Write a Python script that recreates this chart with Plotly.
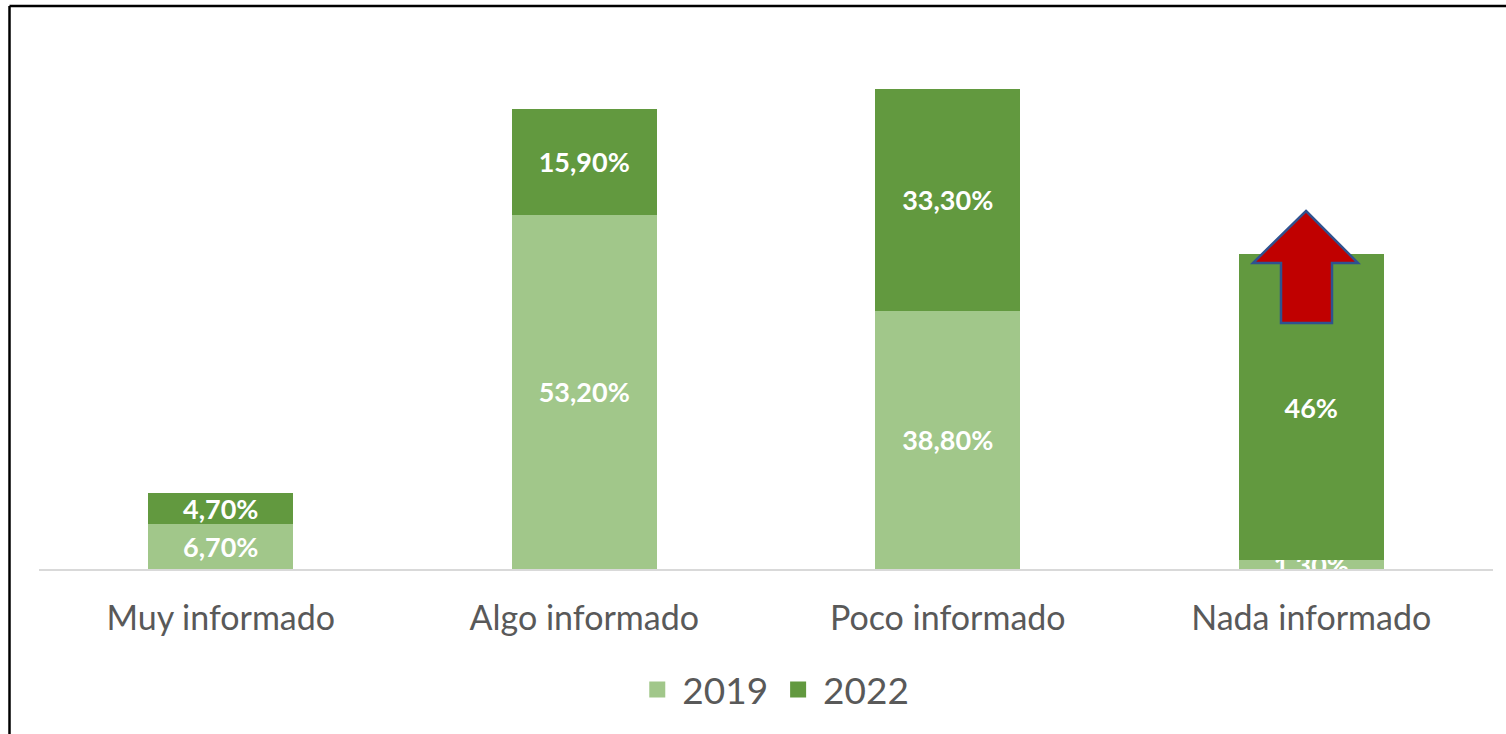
import plotly.graph_objects as go

categories = ["Muy informado", "Algo informado", "Poco informado", "Nada informado"]
values_2019 = [6.7, 53.2, 38.8, 1.3]
values_2022 = [4.7, 15.9, 33.3, 46.0]
labels_2019 = ["6,70%", "53,20%", "38,80%", "1,30%"]
labels_2022 = ["4,70%", "15,90%", "33,30%", "46%"]
series_names = ["2019", "2022"]
series_colors = ["#A1C78A", "#62993F"]

W, H = 1506, 734
ML, MR, MT, MB = 39, 13, 36, 165
PW, PH = W - ML - MR, H - MT - MB


def px_to_paper(px, py):
    return (px - ML) / PW, (H - MB - py) / PH


label_font = dict(family="Lato", size=27, color="white", weight="bold")

fig = go.Figure()
for name, vals, labs, col in zip(series_names, [values_2019, values_2022],
                                 [labels_2019, labels_2022], series_colors):
    fig.add_trace(go.Bar(
        name=name, x=categories, y=vals, text=labs,
        marker=dict(color=col, line=dict(width=0)),
        textposition="inside", insidetextanchor="middle",
        textfont=label_font, constraintext="none",
        showlegend=False,
    ))

# legend-only entries with larger square symbols
for name, col in zip(series_names, series_colors):
    fig.add_trace(go.Scatter(
        name=name, x=[None], y=[None], mode="markers",
        marker=dict(symbol="square", size=16, color=col),
        showlegend=True,
    ))

# Red arrow (decorative) in pixel-derived paper coords
arrow_px = [(1306, 211), (1358, 263), (1332, 263), (1332, 323),
            (1281, 323), (1281, 263), (1253, 263)]
pts = [px_to_paper(x, y) for x, y in arrow_px]
path = "M " + " L ".join(f"{x:.5f},{y:.5f}" for x, y in pts) + " Z"

# Frame: top and left lines
tx0, ty = px_to_paper(9.5, 6)
tx1, _ = px_to_paper(1506, 6)
_, by = px_to_paper(9.5, 734)

fig.update_layout(
    width=W, height=H,
    margin=dict(l=ML, r=MR, t=MT, b=MB),
    paper_bgcolor="white", plot_bgcolor="white",
    barmode="stack", bargap=0.6,
    uniformtext=dict(minsize=27, mode="show"),
    font=dict(family="Lato", color="#595959"),
    xaxis=dict(
        showline=True, linecolor="#D9D9D9", linewidth=1.5,
        showgrid=False, zeroline=False, ticks="",
        tickfont=dict(size=34, color="#595959"),
        ticklabelstandoff=18,
    ),
    yaxis=dict(range=[0, 80], visible=False, showgrid=False, zeroline=False),
    legend=dict(
        orientation="h", x=0.505, xanchor="center",
        y=px_to_paper(0, 690)[1], yanchor="middle",
        font=dict(size=37, color="#595959"),
        traceorder="normal", itemwidth=40,
    ),
    shapes=[
        dict(type="path", path=path, xref="paper", yref="paper",
             fillcolor="#C00000", line=dict(color="#2F528F", width=2.5)),
        dict(type="line", xref="paper", yref="paper",
             x0=tx0, x1=tx1, y0=ty, y1=ty, line=dict(color="black", width=2.5)),
        dict(type="line", xref="paper", yref="paper",
             x0=tx0, x1=tx0, y0=ty, y1=by, line=dict(color="black", width=2.5)),
    ],
)

fig.write_html("out.html", config={"displayModeBar": False},
               post_script="document.body.style.margin='0';")
